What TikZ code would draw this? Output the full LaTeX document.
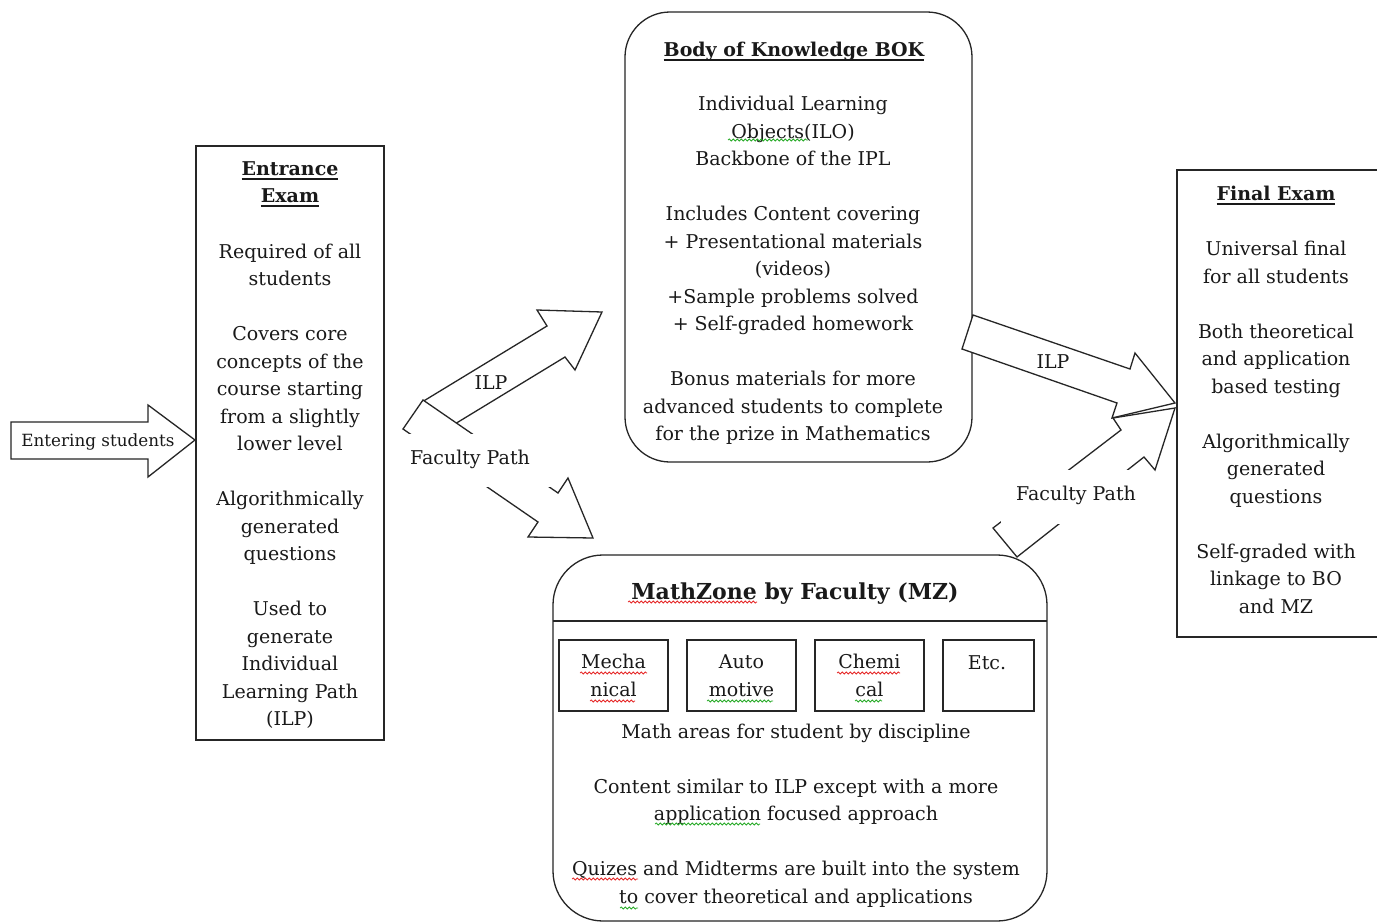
\documentclass[tikz,border=0pt]{standalone}
\usepackage{fontspec}
\setmainfont{DejaVu Serif}
\usetikzlibrary{decorations.pathmorphing}
\newcommand\tul[1]{\setbox0\hbox{#1}\rlap{\raisebox{-4.5pt}{\rule{\wd0}{2.2pt}}}\box0}
\definecolor{spellred}{RGB}{230,40,40}
\definecolor{spellgreen}{RGB}{40,170,40}
\begin{document}
\begin{tikzpicture}[x=1pt,y=-1pt,
  ln/.style={draw=black!85, line width=1.3pt},
  box/.style={ln, fill=white, inner sep=0},
  txt/.style={align=center, font=\fontsize{19}{27.5}\selectfont, inner sep=0, text=black!90, yshift=-2pt},
  ttl/.style={txt, font=\fontsize{19}{27.5}\selectfont\bfseries, yshift=-1.5pt},
  blk/.style={ln, fill=white, line join=miter},
  sq/.style={line width=0.8pt, decorate, decoration={snake, segment length=4pt, amplitude=1pt}},
]
\useasboundingbox (0,0) rectangle (1377,924);
\fill[white] (0,0) rectangle (1377,924);

% main boxes
\node[box, minimum width=188, minimum height=594] (ent) at (290,443) {};
\node[box, rounded corners=45, minimum width=347, minimum height=450] (bok) at (798.5,237) {};
\node[box, minimum width=210, minimum height=467] (fin) at (1282,403.5) {};
\node[box, rounded corners=50, minimum width=494, minimum height=366] (mz) at (800,738) {};
\coordinate (mzl) at (553,621);
\coordinate (mzr) at (1047,621);
\draw[ln] (mzl) -- (mzr);

% entering arrow
\draw[blk] (11,422) -- (148,422) -- (148,405) -- (195,440) -- (148,477) -- (148,459) -- (11,459) -- cycle;
\node[txt, font=\fontsize{16.8}{20}\selectfont] (entering) at (98,440) {Entering students};

% left ILP arrow
\draw[blk] (422,402) -- (547,326) -- (537,310) -- (602,312) -- (575,370) -- (565,357) -- (445,430) -- cycle;
\node[txt] (ilp1) at (491,381) {ILP};
% left faculty path arrow
\draw[blk] (423,400) -- (558,493) -- (568,478) -- (593,538) -- (528,537) -- (538,522) -- (403,429) -- cycle;
\fill[white] (400,434) rectangle (551,487);
\node[txt] (fp1) at (470,457) {Faculty Path};

% right ILP arrow
\draw[blk] (973,315) -- (1130,369) -- (1135,353) -- (1175,403) -- (1112,418) -- (1117,403) -- (962,349) -- cycle;
\node[txt] (ilp2) at (1053,360) {ILP};
% right faculty path arrow
\draw[blk] (993,528) -- (1121,430) -- (1113,418) -- (1175,408) -- (1155,470) -- (1144,457) -- (1017,557) -- cycle;
\fill[white] (1001,470) rectangle (1145,524);
\node[txt] (fp2) at (1076,493) {Faculty Path};

% texts
\node[ttl] (entt) at (290,181) {\tul{Entrance}\\\tul{Exam}};
\node[txt] (entb) at (290,484.5) {Required of all\\students\\[27.5pt]Covers core\\concepts of the\\course starting\\from a slightly\\lower level\\[27.5pt]Algorithmically\\generated\\questions\\[27.5pt]Used to\\generate\\Individual\\Learning Path\\(ILP)};

\node[ttl] (bokt) at (794,48) {\tul{Body of Knowledge BOK}};
\node[txt] (bokb) at (793,268.5) {Individual Learning\\Objects(ILO)\\Backbone of the IPL\\[27.5pt]Includes Content covering\\+ Presentational materials\\(videos)\\+Sample problems solved\\+ Self-graded homework\\[27.5pt]Bonus materials for more\\advanced students to complete\\for the prize in Mathematics};

\node[ttl] (fint) at (1276,192) {\tul{Final Exam}};
\node[txt] (finb) at (1276,425.5) {Universal final\\for all students\\[27.5pt]Both theoretical\\and application\\based testing\\[27.5pt]Algorithmically\\generated\\questions\\[27.5pt]Self-graded with\\linkage to BO\\and MZ};

\node[ttl, font=\fontsize{22}{26}\selectfont\bfseries] (mzt) at (795,590) {MathZone by Faculty (MZ)};
\node[box, txt, minimum width=109, minimum height=71, yshift=2pt] (mech) at (613.5,675.5) {Mecha\\nical};
\node[box, txt, minimum width=109, minimum height=71, yshift=2pt] (auto) at (741.5,675.5) {Auto\\motive};
\node[box, txt, minimum width=109, minimum height=71, yshift=2pt] (chem) at (869.5,675.5) {Chemi\\cal};
\node[box, minimum width=91, minimum height=71] (etcb) at (988.5,675.5) {};
\node[txt] (etc) at (987,661) {Etc.};
\node[txt] (mzb) at (796,813.5) {Math areas for student by discipline\\[27.5pt]Content similar to ILP except with a more\\application focused approach\\[27.5pt]Quizes and Midterms are built into the system\\to cover theoretical and applications};

% spell-check marks
\draw[sq, spellred] (628,602) -- (757,602);
\draw[sq, spellred] (580,673) -- (647,673);
\draw[sq, spellred] (590,701) -- (635,701);
\draw[sq, spellgreen] (707,701) -- (773,701);
\draw[sq, spellred] (837,673) -- (900,673);
\draw[sq, spellgreen] (855,701) -- (882,701);
\draw[sq, spellgreen] (728,140) -- (808,140);
\draw[sq, spellgreen] (655,824) -- (760,824);
\draw[sq, spellred] (572,879) -- (638,879);
\draw[sq, spellgreen] (620,908) -- (638,908);
\end{tikzpicture}
\end{document}
